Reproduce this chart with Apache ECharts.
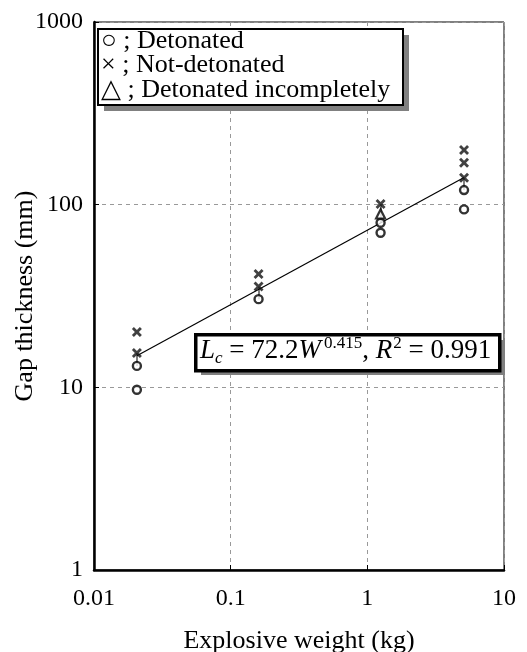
<!DOCTYPE html>
<html><head><meta charset="utf-8">
<script src="https://cdn.jsdelivr.net/npm/echarts@6/dist/echarts.min.js"></script>
<style>html,body{margin:0;padding:0;background:#fff}#c{width:527px;height:652px}</style>
</head><body><div id="c"></div>
<script>
// Data (explosive weight kg, gap thickness mm)
const detonated = [[0.0206,13.1],[0.0206,9.7],[0.16,30.4],[1.25,79.6],[1.25,70.2],[5.1,120.2],[5.1,94.2]];
const notDetonated = [[0.0206,20.1],[0.0206,15.4],[0.16,41.7],[0.16,35.6],[1.25,100.7],[5.1,199],[5.1,169.4],[5.1,140.3]];
const incomplete = [[1.25,88.9]];
const fitW = [0.0206, 5.1];
const fitL = [14.9, 141];
const xTicks = [0.01, 0.1, 1, 10];
const yTicks = [1, 10, 100, 1000];
const legendLines = ['\u25CB ; Detonated', '\u00D7 ; Not-detonated', '\u25B3 ; Detonated incompletely'];

// connectors between lowest no-go and highest go per weight
const groups = [...new Set(detonated.map(d => d[0]))];
const connectors = groups.map(w => {
  const lo = Math.min(...notDetonated.filter(d => d[0] === w).map(d => d[1]));
  const hi = Math.max(...detonated.filter(d => d[0] === w).map(d => d[1]));
  return {coords: [[w, lo], [w, hi]]};
});

const serif = '"Liberation Serif","DejaVu Serif",serif';
const chart = echarts.init(document.getElementById('c'));
const xMark = 'path://M0,2L2,0L5,3L8,0L10,2L7,5L10,8L8,10L5,7L2,10L0,8L3,5Z';

chart.setOption({
  animation: false,
  grid: {left: 94, right: 23, top: 22, bottom: 82, show: true, borderColor: '#000', borderWidth: 1,
    containLabel: false, outerBoundsMode: 'none'},
  xAxis: [{
    type: 'log', min: 0.01, max: 10, logBase: 10,
    name: 'Explosive weight (kg)', nameLocation: 'middle', nameGap: 58, nameMoveOverlap: false,
    nameTextStyle: {fontFamily: serif, fontSize: 26, color: '#000'},
    axisLine: {lineStyle: {color: '#000', width: 2.5}},
    axisTick: {inside: true, length: 5, lineStyle: {color: '#000', width: 1}},
    axisLabel: {fontFamily: serif, fontSize: 24, color: '#000', margin: 17,
      formatter: v => { const t = xTicks.find(k => Math.abs(Math.log10(k) - Math.log10(v)) < 1e-6); return t === undefined ? '' : String(t); }},
    splitLine: {show: true, lineStyle: {color: '#999', type: [4, 4], width: 1}},
    minorTick: {show: false}
  }, {
    type: 'log', min: 0.01, max: 10, position: 'top',
    axisLine: {show: false}, axisTick: {show: false}, axisLabel: {show: false}, splitLine: {show: false}
  }],
  yAxis: [{
    type: 'log', min: 1, max: 1000, logBase: 10,
    name: 'Gap thickness (mm)', nameLocation: 'middle', nameGap: 56, nameMoveOverlap: false,
    nameTextStyle: {fontFamily: serif, fontSize: 26, color: '#000'},
    axisLine: {lineStyle: {color: '#000', width: 2.5}},
    axisTick: {inside: true, length: 5, lineStyle: {color: '#000', width: 1}},
    axisLabel: {fontFamily: serif, fontSize: 24, color: '#000', margin: 11,
      formatter: v => { const t = yTicks.find(k => Math.abs(Math.log10(k) - Math.log10(v)) < 1e-6); return t === undefined ? '' : String(t); }},
    splitLine: {show: true, lineStyle: {color: '#999', type: [4, 4], width: 1}}
  }],
  series: [
    {type: 'lines', coordinateSystem: 'cartesian2d', data: connectors, silent: true,
      lineStyle: {color: '#555', width: 1.5, opacity: 1}, z: 2},
    {type: 'line', data: fitW.map((w, i) => [w, fitL[i]]), symbol: 'none',
      lineStyle: {color: '#000', width: 1.2}, z: 3},
    {type: 'scatter', name: 'Detonated', data: detonated, symbol: 'circle', symbolSize: 8,
      itemStyle: {color: '#fff', borderColor: '#000', borderWidth: 2.4}, z: 4},
    {type: 'scatter', name: 'Not-detonated', data: notDetonated, symbol: xMark, symbolSize: 10,
      itemStyle: {color: '#111'}, z: 5},
    {type: 'scatter', name: 'Detonated incompletely', data: incomplete, symbol: 'triangle', symbolSize: 9,
      itemStyle: {color: '#fff', borderColor: '#000', borderWidth: 2.2}, z: 4}
  ],
  graphic: [
    {type: 'rect', left: 104, top: 35, shape: {width: 305, height: 76}, style: {fill: '#808080'}, z: 10},
    {type: 'rect', left: 97, top: 28, shape: {width: 305, height: 76}, style: {fill: '#fff', stroke: '#000', lineWidth: 2}, z: 11},
    {type: 'text', left: 101, top: 28, z: 12,
      style: {text: legendLines.join('\n'), font: '26px ' + serif, fill: '#000', lineHeight: 24.5}},
    {type: 'rect', left: 201, top: 340, shape: {width: 304, height: 35}, style: {fill: '#808080'}, z: 10},
    {type: 'rect', left: 194, top: 333, shape: {width: 304, height: 36}, style: {fill: '#fff', stroke: '#000', lineWidth: 3.5}, z: 11},
    {type: 'text', left: 200, top: 335, z: 12,
      style: {
        text: '{i|L}{sub|c}{n| = 72.2}{i|W}{sup|0.415}{n|, }{i|R}{sup2|2}{n| = 0.991}',
        rich: {
          n: {fontFamily: serif, fontSize: 27, fill: '#000', lineHeight: 32},
          i: {fontFamily: serif, fontSize: 27, fontStyle: 'italic', fill: '#000', lineHeight: 32},
          sub: {fontFamily: serif, fontSize: 17, fontStyle: 'italic', fill: '#000', verticalAlign: 'bottom', lineHeight: 32},
          sup: {fontFamily: serif, fontSize: 17, fill: '#000', verticalAlign: 'top', lineHeight: 32, padding: [0, 0, 0, 3]},
          sup2: {fontFamily: serif, fontSize: 17, fill: '#000', verticalAlign: 'top', lineHeight: 32, padding: [0, 0, 0, 1]}
        }
      }}
  ]
});
</script></body></html>
